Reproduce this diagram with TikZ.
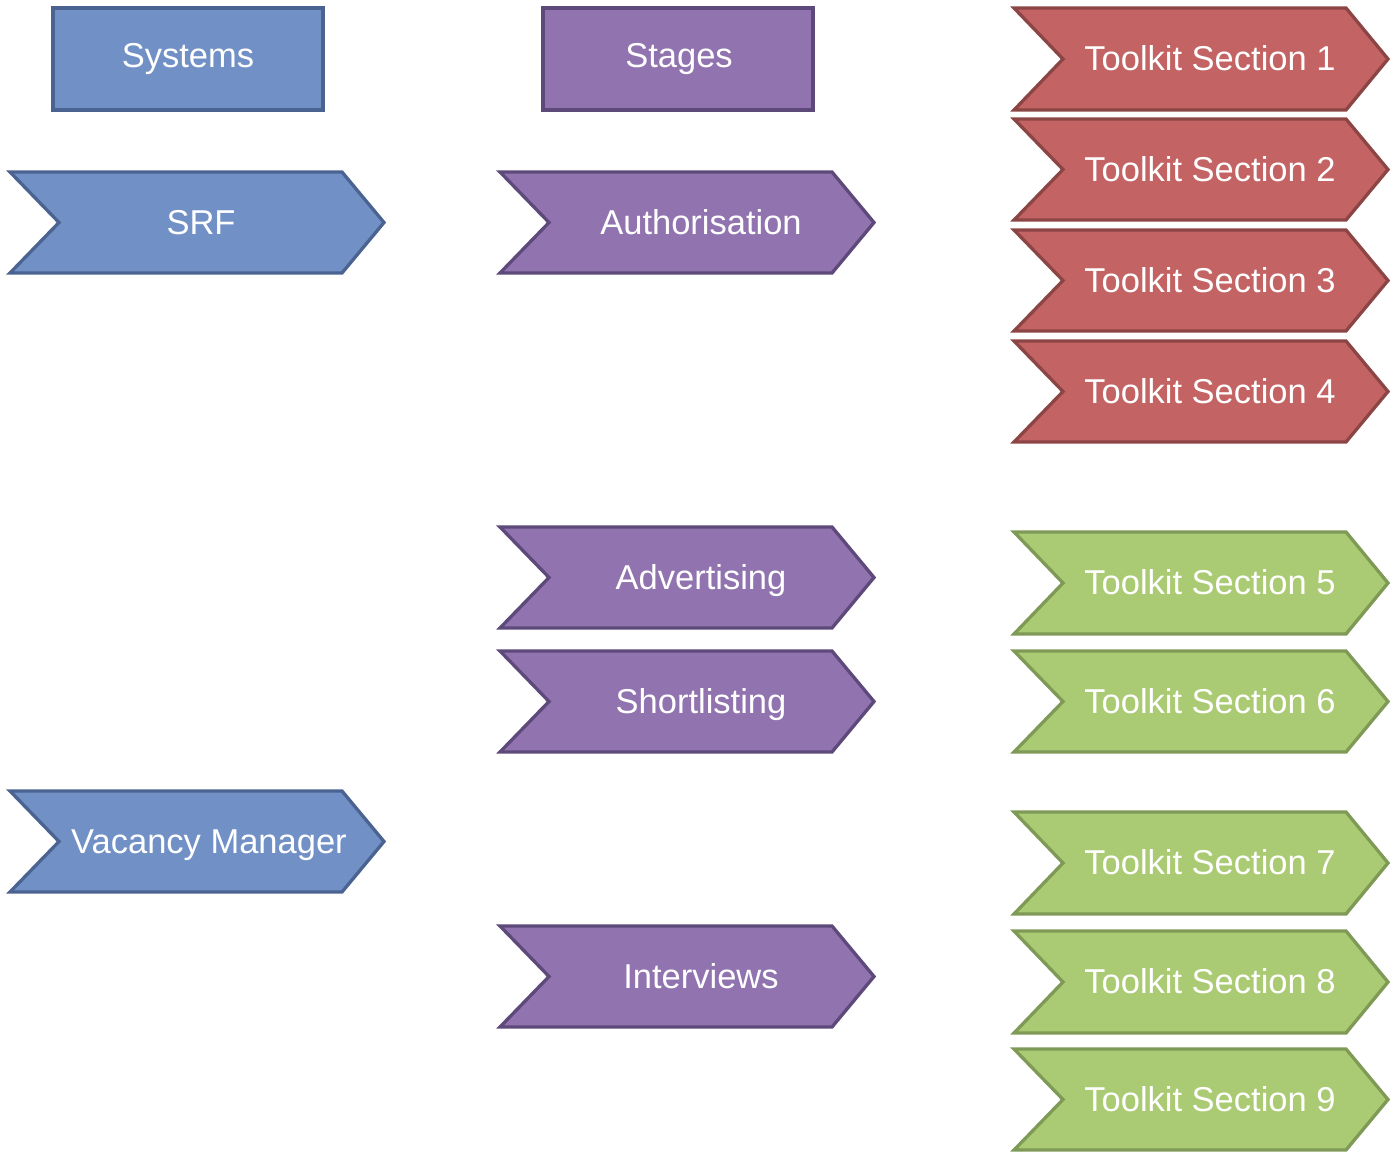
\documentclass[tikz,border=0pt]{standalone}
\usepackage{fontspec}
\setmainfont{Liberation Sans}
\definecolor{bluefill}{HTML}{7191C6}
\definecolor{blueline}{HTML}{4B6391}
\definecolor{purplefill}{HTML}{9174AF}
\definecolor{purpleline}{HTML}{5E4A7A}
\definecolor{redfill}{HTML}{C36363}
\definecolor{redline}{HTML}{8C4545}
\definecolor{greenfill}{HTML}{AACB73}
\definecolor{greenline}{HTML}{7E9A56}
\tikzset{
  bluebox/.style={fill=bluefill,draw=blueline},
  purplebox/.style={fill=purplefill,draw=purpleline},
  redbox/.style={fill=redfill,draw=redline},
  greenbox/.style={fill=greenfill,draw=greenline},
  label/.style={text=white,font=\fontsize{34.5}{41}\selectfont,inner sep=0pt,anchor=base},
}
% #1 style, #2 left x, #3 top y, #4 bottom y, #5 text x, #6 name, #7 text
\newcommand\chevshape[7]{%
  \draw[#1,line width=3.3pt,line join=miter]
    (#2,#3) -- ({#2+332},#3) -- ({#2+374},{(#3+#4)/2}) -- ({#2+332},#4)
    -- (#2,#4) -- ({#2+49},{(#3+#4)/2}) -- cycle;
  \node[label] (#6) at (#5,{(#3+#4)/2+11.5}) {#7};
}
\begin{document}
\begin{tikzpicture}[x=1pt,y=-1pt]
\useasboundingbox (0,0) rectangle (1397,1151);
% headers
\draw[bluebox,line width=3.3pt] (53,8) rectangle (323,110);
\node[label] (systems) at (188,67) {Systems};
\draw[purplebox,line width=3.3pt] (543,8) rectangle (813,110);
\node[label] (stages) at (679,67) {Stages};
% systems
\chevshape{bluebox}{10}{172}{273}{201}{srf}{SRF}
\chevshape{bluebox}{10}{791}{892}{209}{vm}{Vacancy Manager}
% stages
\chevshape{purplebox}{500}{172}{273}{701}{auth}{Authorisation}
\chevshape{purplebox}{500}{527}{628}{701}{adv}{Advertising}
\chevshape{purplebox}{500}{651}{752}{701}{short}{Shortlisting}
\chevshape{purplebox}{500}{926}{1027}{701}{interv}{Interviews}
% toolkit sections
\chevshape{redbox}{1014}{8}{110}{1210}{ts1}{Toolkit Section 1}
\chevshape{redbox}{1014}{119}{220}{1210}{ts2}{Toolkit Section 2}
\chevshape{redbox}{1014}{230}{331}{1210}{ts3}{Toolkit Section 3}
\chevshape{redbox}{1014}{341}{442}{1210}{ts4}{Toolkit Section 4}
\chevshape{greenbox}{1014}{532}{634}{1210}{ts5}{Toolkit Section 5}
\chevshape{greenbox}{1014}{651}{752}{1210}{ts6}{Toolkit Section 6}
\chevshape{greenbox}{1014}{812}{914}{1210}{ts7}{Toolkit Section 7}
\chevshape{greenbox}{1014}{931}{1033}{1210}{ts8}{Toolkit Section 8}
\chevshape{greenbox}{1014}{1049}{1150}{1210}{ts9}{Toolkit Section 9}
\end{tikzpicture}
\end{document}
